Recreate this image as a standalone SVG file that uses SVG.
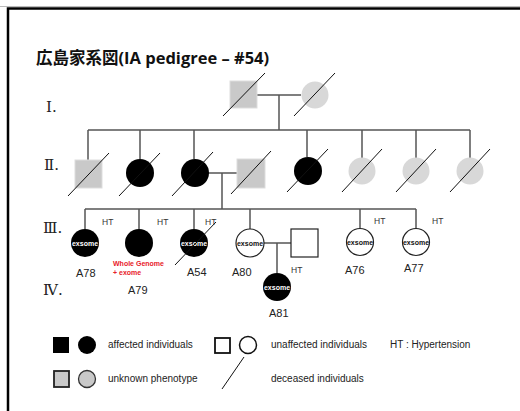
<svg xmlns="http://www.w3.org/2000/svg" width="520" height="411" viewBox="0 0 520 411">
<style>
.ttl{font-family:"Open Sans","Noto Sans CJK JP",sans-serif;font-weight:bold;font-size:16.5px;fill:#111}
.rom{font-family:"DejaVu Serif","Liberation Serif","Noto Sans CJK JP",serif;font-size:15px;fill:#222}
.lbl{font-family:"Liberation Sans",Arial,sans-serif;font-size:11px;fill:#222}
.ht{font-family:"Liberation Sans",Arial,sans-serif;font-size:8.5px;fill:#333}
.ex{font-family:"Liberation Sans",Arial,sans-serif;font-size:7px;font-weight:bold;text-anchor:middle}
.lg{font-family:"Liberation Sans",Arial,sans-serif;font-size:10px;fill:#222}
.red{font-family:"Liberation Sans",Arial,sans-serif;font-size:7px;font-weight:bold;fill:#e8202a}
.con{stroke:#555;stroke-width:1.5;fill:none}
.dec{stroke:#111;stroke-width:1;fill:none}
.aff{fill:#000}
.gsq{fill:#c9c9c9;stroke:#ddd;stroke-width:1}
.gci{fill:#d8d8d8}
.un{fill:#fff;stroke:#222;stroke-width:1.2}
</style>
<path d="M0 6.5H520" stroke="#bbb" stroke-width="1"/>
<path d="M8 411V8.5H520" stroke="#000" stroke-width="2.5" fill="none"/>
<text class="ttl" x="36" y="64">広島家系図(IA pedigree – #54)</text>
<text class="rom" x="46" y="112">Ⅰ.</text>
<text class="rom" x="44" y="170">Ⅱ.</text>
<text class="rom" x="43" y="233">Ⅲ.</text>
<text class="rom" x="43" y="295">Ⅳ.</text>

<g id="connectors">
<path class="con" d="M257 95H301M279 95V130M88 130H470M88 130V160M140 130V159M194 130V159M307 130V157M362 130V158M416 130V158M470 130V158"/>
<path class="con" d="M208 173H237M222 173V209M85 209H416M85 209V229M139 209V229M194 209V229M250 209V229M360 209V229M416 209V229"/>
<path class="con" d="M264 243H291M277 243V273"/>
</g>

<g id="I-1"><rect class="gsq" x="230" y="81" width="27" height="27"/><path class="dec" d="M223 116L265 73"/></g>
<g id="I-2"><circle class="gci" cx="315" cy="95" r="13.5"/><path class="dec" d="M294 116L335 73"/></g>

<g id="II-1"><rect class="gsq" x="75" y="160" width="27" height="28"/><path class="dec" d="M68 196L109 153"/></g>
<g id="II-2"><circle class="aff" cx="140" cy="173" r="14"/><path class="dec" d="M119 196L160 153"/></g>
<g id="II-3"><circle class="aff" cx="195" cy="173" r="14"/><path class="dec" d="M172 196L213 152"/></g>
<g id="II-4"><rect class="gsq" x="237" y="159" width="28" height="29"/><path class="dec" d="M231 194L271 151"/></g>
<g id="II-5"><circle class="aff" cx="308" cy="171" r="14"/><path class="dec" d="M287 192L328 149"/></g>
<g id="II-6"><circle class="gci" cx="362" cy="171" r="13.5"/><path class="dec" d="M342 192L382 149"/></g>
<g id="II-7"><circle class="gci" cx="416" cy="171" r="13.5"/><path class="dec" d="M396 192L436 149"/></g>
<g id="II-8"><circle class="gci" cx="470" cy="171" r="13.5"/><path class="dec" d="M450 192L490 149"/></g>

<g id="A78"><circle class="aff" cx="85" cy="243" r="14"/><text class="ex" x="85" y="245.5" fill="#fff">exsome</text><text class="ht" x="102" y="225">HT</text><text class="lbl" x="76" y="277">A78</text></g>
<g id="A79"><circle class="aff" cx="139" cy="243" r="14"/><text class="ht" x="157" y="225">HT</text><text class="red" x="113" y="266">Whole Genome</text><text class="red" x="113" y="275">+ exome</text><text class="lbl" x="128" y="294">A79</text></g>
<g id="A54"><circle class="aff" cx="194" cy="243" r="14"/><text class="ex" x="194" y="245.5" fill="#fff">exsome</text><path class="dec" d="M175 265L216 222"/><text class="ht" x="205" y="225">HT</text><text class="lbl" x="187" y="276">A54</text></g>
<g id="A80"><circle class="un" cx="250" cy="243" r="14"/><text class="ex" x="250" y="245.5" fill="#111">exsome</text><text class="lbl" x="232" y="276">A80</text></g>
<g id="III-spouse"><rect class="un" x="291" y="229" width="27" height="28"/></g>
<g id="A76"><circle class="un" cx="360" cy="242" r="13.5"/><text class="ex" x="360" y="244.5" fill="#111">exsome</text><text class="ht" x="374" y="224">HT</text><text class="lbl" x="345" y="274">A76</text></g>
<g id="A77"><circle class="un" cx="416" cy="242" r="13.5"/><text class="ex" x="416" y="244.5" fill="#111">exsome</text><text class="ht" x="432" y="224">HT</text><text class="lbl" x="404" y="272">A77</text></g>
<g id="A81"><circle class="aff" cx="277" cy="287" r="14"/><text class="ex" x="277" y="289.5" fill="#fff">exsome</text><text class="ht" x="291" y="273">HT</text><text class="lbl" x="269" y="317">A81</text></g>

<g id="legend">
<rect x="53" y="337" width="16" height="16" fill="#000"/>
<circle cx="87" cy="345" r="9" fill="#000"/>
<text class="lg" x="108" y="348">affected individuals</text>
<rect x="215" y="338" width="15" height="15" fill="#fff" stroke="#111" stroke-width="1.8"/>
<circle cx="248" cy="345" r="8.5" fill="#fff" stroke="#111" stroke-width="1.5"/>
<text class="lg" x="271" y="348">unaffected individuals</text>
<text class="lg" x="390" y="348">HT : Hypertension</text>
<rect x="54" y="371" width="15" height="16" fill="#c9c9c9" stroke="#222" stroke-width="1.8"/>
<circle cx="87" cy="379" r="8.5" fill="#c9c9c9" stroke="#333" stroke-width="1.3"/>
<text class="lg" x="108" y="382">unknown  phenotype</text>
<path class="dec" d="M222 389L244 357"/>
<text class="lg" x="271" y="382">deceased individuals</text>
</g>
</svg>
